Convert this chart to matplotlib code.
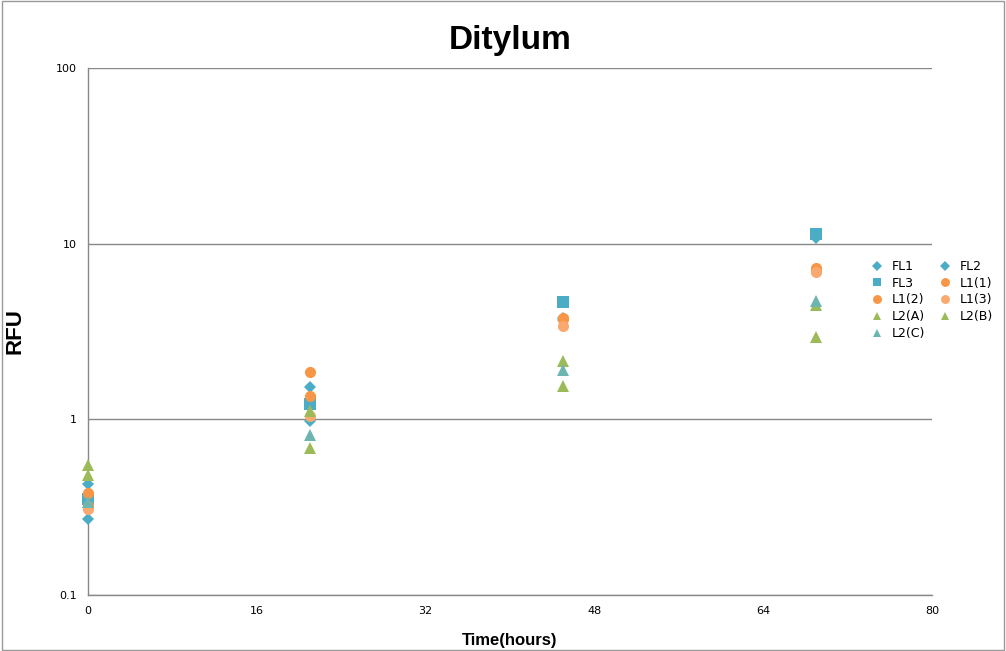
import matplotlib
matplotlib.use("Agg")
import matplotlib.pyplot as plt
from matplotlib.ticker import FixedLocator, FixedFormatter, NullLocator

times = [0, 21, 45, 69]
series_names = ["FL1", "FL2", "FL3", "L1(1)", "L1(2)", "L1(3)", "L2(A)", "L2(B)", "L2(C)"]
FL1 = [0.27, 0.98, 3.70, 10.8]
FL2 = [0.43, 1.52, 3.80, 11.0]
FL3 = [0.35, 1.22, 4.63, 11.4]
L1_1 = [0.38, 1.85, 3.80, 7.3]
L1_2 = [0.32, 1.35, 3.75, 7.0]
L1_3 = [0.31, 1.05, 3.40, 6.9]
L2_A = [0.55, 0.69, 1.55, 2.93]
L2_B = [0.48, 1.12, 2.15, 4.45]
L2_C = [0.34, 0.81, 1.90, 4.70]
values = [FL1, FL2, FL3, L1_1, L1_2, L1_3, L2_A, L2_B, L2_C]
x_ticks = [0, 16, 32, 48, 64, 80]
y_ticks = [0.1, 1, 10, 100]
y_tick_labels = ["0.1", "1", "10", "100"]

blue = "#4BACC6"
orange = "#F79646"
green = "#9BBB59"
styles = [
    ("D", blue, 6), ("D", blue, 6), ("s", blue, 8),
    ("o", orange, 8), ("o", orange, 8), ("o", "#F9A870", 8),
    ("^", green, 8), ("^", green, 8), ("^", "#6DB5B0", 8),
]

fig = plt.figure(figsize=(10.06, 6.51), dpi=100)
ax = fig.add_axes([0.0875, 0.086, 0.839, 0.8095])

handles = []
for name, vals, (m, c, s) in zip(series_names, values, styles):
    h, = ax.plot(times, vals, linestyle="none", marker=m, color=c,
                 markersize=s, markeredgewidth=0, label=name, clip_on=False, zorder=3)
    handles.append(h)

ax.set_yscale("log")
ax.set_ylim(0.1, 100)
ax.set_xlim(0, 80)
ax.yaxis.set_major_locator(FixedLocator(y_ticks))
ax.yaxis.set_major_formatter(FixedFormatter(y_tick_labels))
ax.yaxis.set_minor_locator(NullLocator())
ax.set_xticks(x_ticks)
ax.grid(axis="y", color="#888888", linewidth=1)
ax.set_axisbelow(True)
for sp in ["top", "right"]:
    ax.spines[sp].set_visible(False)
for sp in ["left", "bottom"]:
    ax.spines[sp].set_color("#888888")
    ax.spines[sp].set_linewidth(1)
ax.tick_params(axis="both", length=0, labelsize=8, pad=8)

ax.set_title("Ditylum", fontsize=24, fontweight="bold", pad=14, family="Liberation Sans")
ax.set_ylabel("RFU", fontsize=16, fontweight="bold", family="Liberation Sans", labelpad=22)
ax.set_xlabel("Time(hours)", fontsize=12, fontweight="bold", family="Liberation Sans", labelpad=12)

order = [0, 2, 4, 6, 8, 1, 3, 5, 7]
leg = ax.legend([handles[i] for i in order], [series_names[i] for i in order],
                ncol=2, loc="center left", bbox_to_anchor=(0.912, 0.56),
                frameon=False, fontsize=9, handletextpad=0.6, columnspacing=1.0,
                labelspacing=0.3, markerscale=0.8, handlelength=1.2)

border = plt.Rectangle((0.002, 0.002), 0.996, 0.996, transform=fig.transFigure,
                       fill=False, edgecolor="#999999", linewidth=1)
fig.patches.append(border)

fig.savefig("out.png", dpi=100)
